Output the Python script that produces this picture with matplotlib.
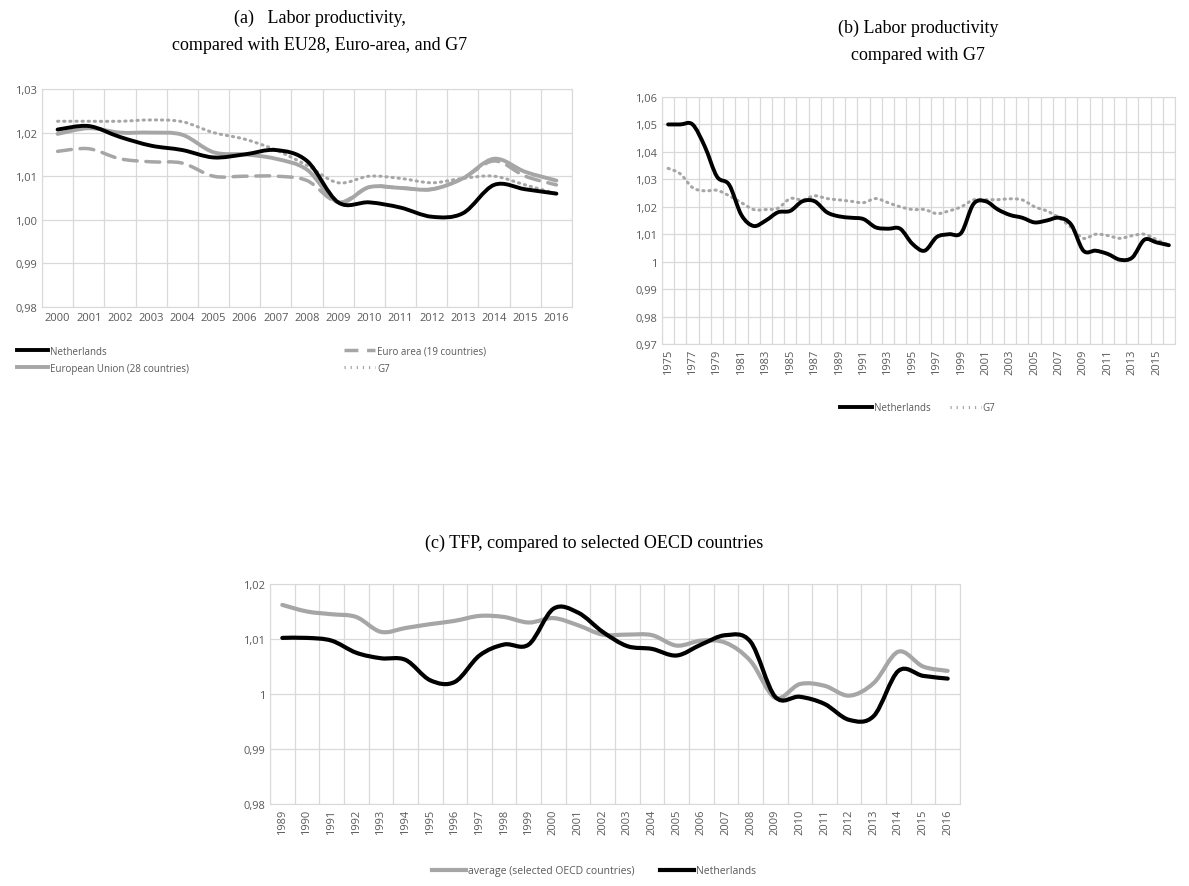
import numpy as np
import matplotlib
matplotlib.use("Agg")
import matplotlib.pyplot as plt
from matplotlib.path import Path
from matplotlib.patches import PathPatch
from matplotlib.lines import Line2D
from matplotlib.ticker import FuncFormatter

# panel (a)
years_a = list(range(2000, 2017))
nl_a = [1.0207, 1.0215, 1.019, 1.017, 1.016, 1.0143, 1.015, 1.016, 1.0135, 1.004,
        1.004, 1.0028, 1.0007, 1.0015, 1.008, 1.007, 1.006]
euro_a = [1.0157, 1.0163, 1.014, 1.0133, 1.013, 1.010, 1.010, 1.010, 1.009, 1.004,
          1.0075, 1.0073, 1.007, 1.0095, 1.0135, 1.010, 1.008]
eu28_a = [1.0197, 1.021, 1.020, 1.020, 1.0195, 1.0155, 1.015, 1.014, 1.0115, 1.004,
          1.0075, 1.0073, 1.007, 1.0095, 1.014, 1.011, 1.009]
g7_a = [1.0226, 1.0226, 1.0226, 1.0229, 1.0225, 1.020, 1.0185, 1.016, 1.0125, 1.0085,
        1.010, 1.0095, 1.0085, 1.0095, 1.010, 1.008, 1.006]

# panel (b)
years_b = list(range(1975, 2017))
nl_b = [1.050, 1.050, 1.050, 1.042, 1.031, 1.028, 1.017, 1.013, 1.015, 1.018,
        1.0185, 1.022, 1.022, 1.018, 1.0165, 1.016, 1.0155, 1.0125, 1.012, 1.012,
        1.0065, 1.004, 1.009, 1.010, 1.0105, 1.021, 1.022, 1.019, 1.017, 1.016,
        1.0143, 1.015, 1.016, 1.0135, 1.004, 1.004, 1.0028, 1.0007, 1.0015, 1.008,
        1.007, 1.006]
g7_b = [1.034, 1.032, 1.027, 1.0258, 1.026, 1.024, 1.0215, 1.019, 1.019, 1.0195,
        1.023, 1.0225, 1.024, 1.023, 1.0225, 1.022, 1.0215, 1.023, 1.0215, 1.020,
        1.019, 1.019, 1.0175, 1.0185, 1.020, 1.0225, 1.0226, 1.0226, 1.0229, 1.0225,
        1.020, 1.0185, 1.016, 1.0125, 1.0085, 1.010, 1.0095, 1.0085, 1.0095, 1.010,
        1.008, 1.006]

# panel (c)
years_c = list(range(1989, 2017))
avg_c = [1.0162, 1.015, 1.0145, 1.014, 1.0113, 1.012, 1.0127, 1.0133, 1.0142, 1.014,
         1.013, 1.0138, 1.0125, 1.0108, 1.0108, 1.0107, 1.0088, 1.0097, 1.0093, 1.006,
         0.9993, 1.0018, 1.0015, 0.9997, 1.002, 1.0077, 1.005, 1.0042]
nl_c = [1.0102, 1.0102, 1.0097, 1.0075, 1.0065, 1.0062, 1.0025, 1.0022, 1.007, 1.009,
        1.009, 1.0155, 1.0148, 1.0113, 1.0087, 1.0082, 1.0070, 1.009, 1.0107, 1.0095,
        0.9995, 0.9995, 0.9982, 0.9953, 0.996, 1.0042, 1.0033, 1.0028]

TICK_FONT = "Open Sans"
TICK_COLOR = "#595959"
GRID = "#d9d9d9"
GREY = "#a6a6a6"
SERIF = "Liberation Serif"
DOTS = (0, (0.4, 1.6))


def smooth_line(ax, y, **kw):
    # Excel style smoothed line: Catmull-Rom drawn as cubic Bezier segments
    x = np.arange(len(y), dtype=float)
    y = np.asarray(y, dtype=float)
    verts = [(x[0], y[0])]
    codes = [Path.MOVETO]
    n = len(y)
    for i in range(n - 1):
        p0 = (x[max(i - 1, 0)], y[max(i - 1, 0)])
        p1 = (x[i], y[i])
        p2 = (x[i + 1], y[i + 1])
        p3 = (x[min(i + 2, n - 1)], y[min(i + 2, n - 1)])
        c1 = (p1[0] + (p2[0] - p0[0]) / 6, p1[1] + (p2[1] - p0[1]) / 6)
        c2 = (p2[0] - (p3[0] - p1[0]) / 6, p2[1] - (p3[1] - p1[1]) / 6)
        verts += [c1, c2, p2]
        codes += [Path.CURVE4] * 3
    patch = PathPatch(Path(verts, codes), fill=False, capstyle="round",
                      joinstyle="round", **kw)
    ax.add_patch(patch)


def style_axes(ax, labels, ylim, ystep, fmt, rotate=False, label_every=1):
    n = len(labels)
    ax.set_xlim(-0.5, n - 0.5)
    ax.set_ylim(*ylim)
    ax.set_yticks(np.arange(ylim[0], ylim[1] + ystep / 2, ystep))
    ax.yaxis.set_major_formatter(FuncFormatter(fmt))
    ax.set_xticks(range(0, n, label_every))
    ax.set_xticklabels([str(v) for v in labels[::label_every]],
                       rotation=90 if rotate else 0)
    ax.set_xticks(np.arange(-0.5, n, 1.0), minor=True)
    ax.grid(True, which="minor", axis="x", color=GRID, lw=0.9)
    ax.grid(True, which="major", axis="y", color=GRID, lw=0.9)
    ax.tick_params(which="both", length=0, labelsize=8, colors=TICK_COLOR)
    for lab in ax.get_xticklabels() + ax.get_yticklabels():
        lab.set_fontfamily(TICK_FONT)
    for s in ax.spines.values():
        s.set_color(GRID)
    ax.set_axisbelow(True)


def comma2(v, _):
    return f"{v:.2f}".replace(".", ",")


def comma_trim(v, _):
    s = f"{v:.2f}".rstrip("0").rstrip(".")
    return s.replace(".", ",")


W, H = 1189, 887
fig = plt.figure(figsize=(W / 100, H / 100), dpi=100)


def add_ax(x0, y0, x1, y1):
    return fig.add_axes([x0 / W, 1 - y1 / H, (x1 - x0) / W, (y1 - y0) / H])


# (a)
ax = add_ax(42, 90, 572, 308)
style_axes(ax, years_a, (0.98, 1.03), 0.01, comma2)
smooth_line(ax, euro_a, color=GREY, lw=2.5, linestyle=(0, (4, 2.5)))
smooth_line(ax, eu28_a, color=GREY, lw=2.8)
smooth_line(ax, g7_a, color=GREY, lw=2.2, linestyle=DOTS)
smooth_line(ax, nl_a, color="black", lw=2.8)
fig.text(320 / W, 1 - 18 / H, "(a)   Labor productivity,", ha="center", va="center",
         fontsize=13, family=SERIF)
fig.text(320 / W, 1 - 46 / H, "compared with EU28, Euro-area, and G7", ha="center",
         va="center", fontsize=13, family=SERIF)
handles = [Line2D([], [], color="black", lw=2.8),
           Line2D([], [], color=GREY, lw=2.8),
           Line2D([], [], color=GREY, lw=2.5, ls=(0, (4, 2.5))),
           Line2D([], [], color=GREY, lw=2.2, ls=DOTS)]
names = ["Netherlands", "European Union (28 countries)", "Euro area (19 countries)", "G7"]
fig.legend(handles, names, loc="upper left", bbox_to_anchor=(8 / W, 1 - 338 / H),
           ncol=2, frameon=False, columnspacing=16, handlelength=3.2,
           prop={"family": TICK_FONT, "size": 7}, labelcolor=TICK_COLOR,
           handletextpad=0.2, labelspacing=0.6)

# (b)
ax = add_ax(662, 98, 1175, 345)
style_axes(ax, years_b, (0.97, 1.06), 0.01, comma_trim, rotate=True, label_every=2)
smooth_line(ax, g7_b, color=GREY, lw=2.2, linestyle=DOTS)
smooth_line(ax, nl_b, color="black", lw=2.8)
fig.text(918 / W, 1 - 28 / H, "(b) Labor productivity", ha="center", va="center",
         fontsize=13, family=SERIF)
fig.text(918 / W, 1 - 56 / H, "compared with G7", ha="center", va="center",
         fontsize=13, family=SERIF)
fig.legend([Line2D([], [], color="black", lw=2.8),
            Line2D([], [], color=GREY, lw=2.2, ls=DOTS)],
           ["Netherlands", "G7"], loc="center", bbox_to_anchor=(918 / W, 1 - 409 / H),
           ncol=2, frameon=False, handlelength=3.2, handletextpad=0.2,
           prop={"family": TICK_FONT, "size": 7}, labelcolor=TICK_COLOR)

# (c)
ax = add_ax(270, 585, 960, 805)
style_axes(ax, years_c, (0.98, 1.02), 0.01, comma_trim, rotate=True)
smooth_line(ax, avg_c, color=GREY, lw=3.0)
smooth_line(ax, nl_c, color="black", lw=3.0)
fig.text(594 / W, 1 - 543 / H, "(c) TFP, compared to selected OECD countries",
         ha="center", va="center", fontsize=13, family=SERIF)
fig.legend([Line2D([], [], color=GREY, lw=3.0), Line2D([], [], color="black", lw=3.0)],
           ["average (selected OECD countries)", "Netherlands"], loc="center",
           bbox_to_anchor=(594 / W, 1 - 872 / H), ncol=2, frameon=False,
           handlelength=3.2, handletextpad=0.2, columnspacing=2.5,
           prop={"family": TICK_FONT, "size": 7.5}, labelcolor=TICK_COLOR)

fig.savefig("out.png", dpi=100)
